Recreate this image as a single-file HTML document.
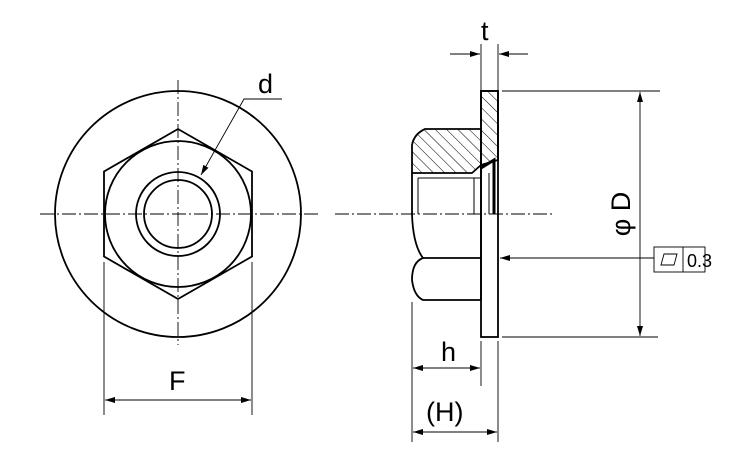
<!DOCTYPE html>
<html><head><style>body{margin:0;background:#fff}svg{display:block}</style></head><body>
<svg width="750" height="450" viewBox="0 0 750 450" xmlns="http://www.w3.org/2000/svg" font-family="Liberation Sans, sans-serif">
<defs>
<marker id="a" viewBox="0 0 10 6" refX="10" refY="3" markerWidth="10" markerHeight="6" orient="auto-start-reverse" markerUnits="userSpaceOnUse"><path d="M0,0L10,3L0,6z" fill="#000"/></marker>
<pattern id="h" width="8" height="8" patternUnits="userSpaceOnUse" patternTransform="rotate(-45)"><line x1="0" y1="0" x2="0" y2="8" stroke="#000" stroke-width="1"/></pattern>
</defs>
<g fill="none" stroke="#000" stroke-width="1.8">
<circle cx="178" cy="214" r="123"/>
<polygon points="178,129 252,171.5 252,256.5 178,299 104,256.5 104,171.5"/>
<circle cx="178" cy="214" r="73"/>
<circle cx="178" cy="214" r="42"/>
<circle cx="178" cy="214" r="34"/>
</g>
<g stroke="#000" stroke-width="0.9" stroke-dasharray="14,3,2,3" fill="none">
<line x1="40" y1="214" x2="318" y2="214"/>
<line x1="178" y1="80" x2="178" y2="345"/>
<line x1="335" y1="214" x2="555" y2="214"/>
</g>
<g stroke="#000" stroke-width="0.9" fill="none">
<polyline points="282,99 244,99 201,175" marker-end="url(#a)"/>
<line x1="104" y1="262" x2="104" y2="415"/>
<line x1="252" y1="262" x2="252" y2="415"/>
<line x1="105" y1="400" x2="251" y2="400" marker-start="url(#a)" marker-end="url(#a)"/>
<line x1="481" y1="44" x2="481" y2="90"/>
<line x1="498" y1="44" x2="498" y2="90"/>
<line x1="450" y1="54" x2="480" y2="54" marker-end="url(#a)"/>
<line x1="528" y1="54" x2="499" y2="54" marker-end="url(#a)"/>
<line x1="502" y1="91" x2="660" y2="91"/>
<line x1="502" y1="337" x2="658" y2="337"/>
<line x1="640" y1="92" x2="640" y2="336" marker-start="url(#a)" marker-end="url(#a)"/>
<line x1="654" y1="258" x2="500" y2="258" marker-end="url(#a)"/>
<line x1="412" y1="302" x2="412" y2="442"/>
<line x1="481" y1="341" x2="481" y2="386"/>
<line x1="498" y1="341" x2="498" y2="442"/>
<line x1="413" y1="368" x2="480" y2="368" marker-start="url(#a)" marker-end="url(#a)"/>
<line x1="413" y1="432" x2="497" y2="432" marker-start="url(#a)" marker-end="url(#a)"/>
<rect x="654" y="247" width="51" height="25"/>
<line x1="683" y1="247" x2="683" y2="272"/>
<polygon points="661,265 664,254 677,254 674,265"/>
</g>
<path d="M425,129 L481,129 L481,165 L472,173 L412,173 L412,145 Q414,134 425,129Z" fill="url(#h)" stroke="#000" stroke-width="1.8"/>
<path d="M481,91 L498,91 L498,160 L481,165Z" fill="url(#h)" stroke="#000" stroke-width="1.8"/>
<g fill="none" stroke="#000" stroke-width="1.8">
<rect x="481" y="91" width="17" height="246"/>
<path d="M412,173 L412,214 Q413,245 423,258 Q412,262 412,280 Q414,296 423,300 L481,300"/>
<line x1="423" y1="258" x2="481" y2="258"/>
<line x1="481" y1="129" x2="481" y2="300"/>
<path d="M481,168 L494,160 L494,214" stroke-width="3"/>
</g>
<g fill="none" stroke="#000" stroke-width="1">
<line x1="418" y1="178" x2="418" y2="214"/>
<line x1="474" y1="178" x2="474" y2="214"/>
<line x1="418" y1="178" x2="481" y2="178"/>
<line x1="489" y1="173" x2="489" y2="214"/>
</g>
<g fill="#000" font-size="27">
<text x="258" y="93">d</text>
<text x="169" y="390">F</text>
<text x="481" y="40">t</text>
<text x="441" y="361">h</text>
<text x="426" y="421">(H)</text>
<text transform="translate(630,214) rotate(-90)" text-anchor="middle">φ D</text>
</g>
<text x="687" y="267" font-size="18" fill="#000">0.3</text>
</svg>
</body></html>
